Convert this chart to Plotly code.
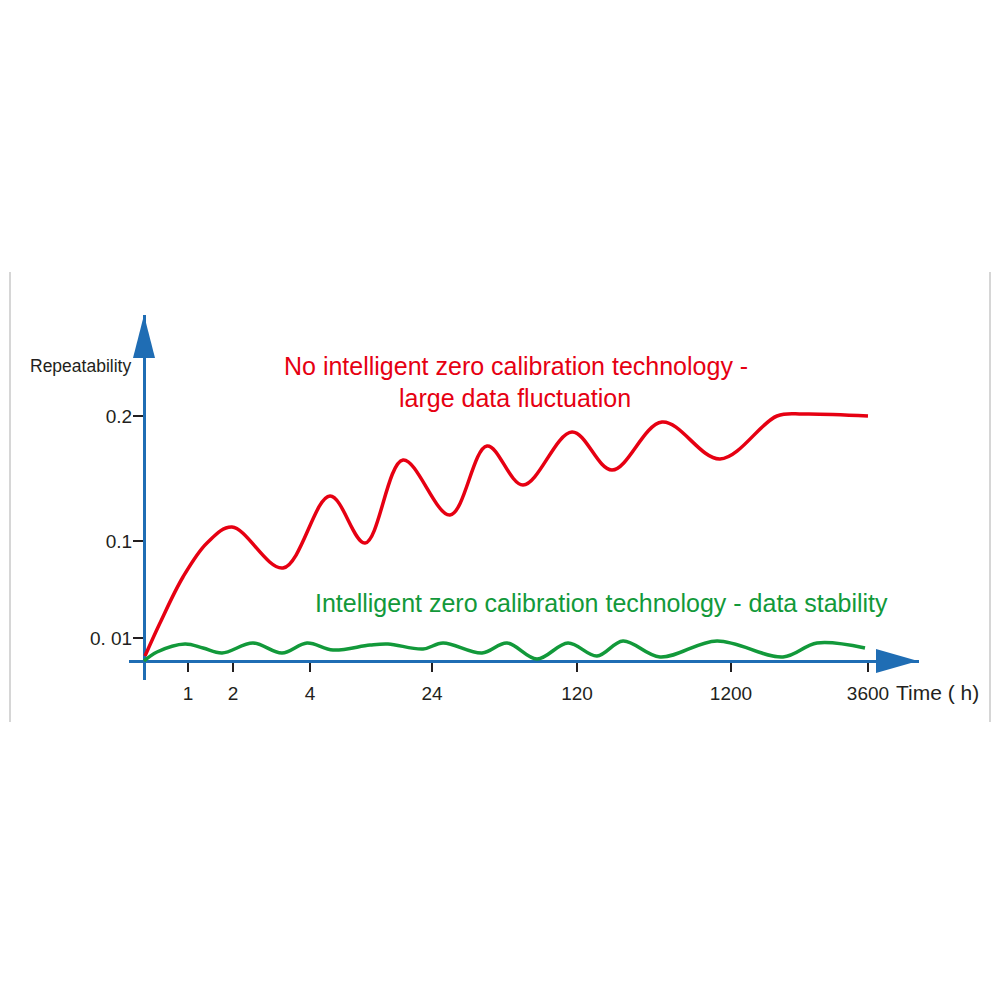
import plotly.graph_objects as go

# schematic positions of the time ticks along the axis
time_ticks = [44, 89, 166, 288, 433, 587, 724]
time_labels = ["1", "2", "4", "24", "120", "1200", "3600"]

# schematic heights of the repeatability ticks
rep_ticks = [23, 120, 245]
rep_labels = ["0. 01", "0.1", "0.2"]

# without intelligent zero calibration - large fluctuation
red_x = [1, 16, 39, 63, 88, 139, 186, 221, 259, 306, 343,
         379, 428, 468, 518, 576, 633, 660, 724]
red_y = [5, 38, 84, 118, 134, 93, 165, 118, 201, 146, 215,
         176, 229, 191, 239, 202, 245, 247, 245]

# with intelligent zero calibration - stable
green_x = [0, 13, 41, 59, 78, 109, 138, 163, 189, 226, 244, 279, 299, 338, 363, 393,
           424, 453, 479, 516, 573, 639, 673, 721]
green_y = [0, 9, 17, 13, 8, 18, 8, 18, 11, 16, 17, 12, 18, 8, 18, 2,
           18, 5, 20, 4, 20, 4, 18, 13]

OFF = 8  # page body margin
W, H = 984, 984
ML, MT = 129 - OFF, 315 - OFF
X0, X1 = -15, 775
Y0, Y1 = -19, 346
PW, PH = X1 - X0, Y1 - Y0
MR = W - ML - PW
MB = H - MT - PH

AXIS = "#1f6db4"
RED = "#e60012"
GREEN = "#12993a"
INK = "#231f20"
FONT = "Liberation Sans, Arial, sans-serif"


def px_x(p):
    return (p - OFF - ML) / PW


def px_y(p):
    return (H - MB - (p - OFF)) / PH


fig = go.Figure()
fig.add_trace(go.Scatter(x=red_x, y=red_y, mode="lines",
                         line=dict(color=RED, width=3.5, shape="spline", smoothing=1.0),
                         hoverinfo="skip"))
fig.add_trace(go.Scatter(x=green_x, y=green_y, mode="lines",
                         line=dict(color=GREEN, width=3.5, shape="spline", smoothing=1.0),
                         hoverinfo="skip"))

fig.update_layout(
    width=W, height=H,
    margin=dict(l=ML, r=MR, t=MT, b=MB, pad=0),
    plot_bgcolor="white", paper_bgcolor="white",
    showlegend=False,
    font=dict(family=FONT, color=INK),
    xaxis=dict(range=[X0, X1], anchor="free", position=(0 - Y0) / PH,
               showline=True, linecolor=AXIS, linewidth=3,
               showgrid=False, zeroline=False,
               tickmode="array", tickvals=time_ticks, ticktext=time_labels,
               ticks="outside", ticklen=9, tickwidth=2, tickcolor=INK,
               tickfont=dict(size=19), ticklabelstandoff=5, layer="below traces"),
    yaxis=dict(range=[Y0, Y1], anchor="free", position=(0 - X0) / PW,
               showline=True, linecolor=AXIS, linewidth=3,
               showgrid=False, zeroline=False,
               tickmode="array", tickvals=rep_ticks, ticktext=rep_labels,
               ticks="outside", ticklen=10, tickwidth=2, tickcolor=INK,
               tickfont=dict(size=19), ticklabelstandoff=-3, layer="below traces"),
)

# arrow heads on both axes
fig.add_shape(type="path", xref="x", yref="y", layer="above",
              path="M -11 303 L 11 303 L 0 346 Z", fillcolor=AXIS, line=dict(width=0))
fig.add_shape(type="path", xref="x", yref="y", layer="above",
              path="M 732 12 L 732 -12 L 774 0 Z", fillcolor=AXIS, line=dict(width=0))

# light frame edges
for xp in (10, 990):
    fig.add_shape(type="line", xref="paper", yref="paper",
                  x0=px_x(xp), x1=px_x(xp), y0=px_y(272), y1=px_y(722),
                  line=dict(color="#d6d6d6", width=2))

fig.add_annotation(x=px_x(133), y=px_y(366), xref="paper", yref="paper",
                   text="Repeatability", showarrow=False, xanchor="right", yanchor="middle",
                   font=dict(size=17.5, color=INK))
fig.add_annotation(x=px_x(894), y=px_y(692), xref="paper", yref="paper",
                   text="Time ( h)", showarrow=False, xanchor="left", yanchor="middle",
                   font=dict(size=21, color=INK))
fig.add_annotation(x=px_x(516), y=px_y(366), xref="paper", yref="paper",
                   text="No intelligent zero calibration technology -", showarrow=False,
                   xanchor="center", yanchor="middle", font=dict(size=25, color=RED))
fig.add_annotation(x=px_x(515), y=px_y(398), xref="paper", yref="paper",
                   text="large data fluctuation", showarrow=False,
                   xanchor="center", yanchor="middle", font=dict(size=25, color=RED))
fig.add_annotation(x=px_x(601), y=px_y(603), xref="paper", yref="paper",
                   text="Intelligent zero calibration technology - data stability",
                   showarrow=False, xanchor="center", yanchor="middle",
                   font=dict(size=25, color=GREEN))

fig.write_html("out.html")
